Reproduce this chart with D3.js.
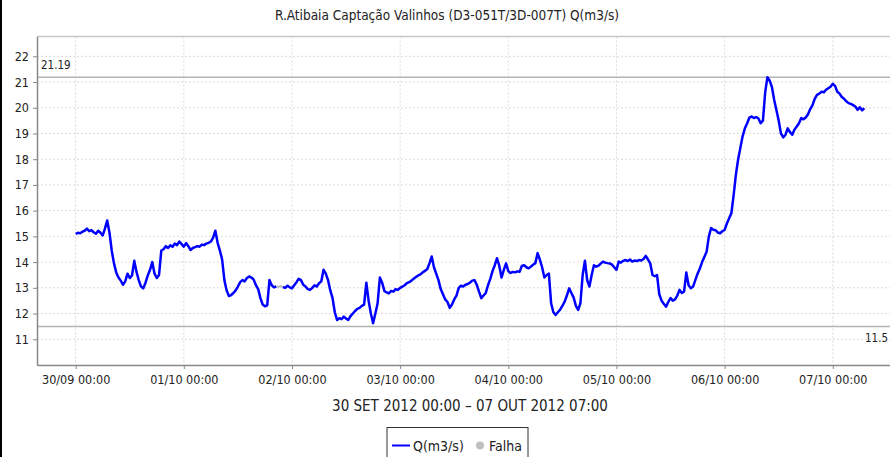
<!DOCTYPE html>
<html>
<head>
<meta charset="utf-8">
<script src="https://cdn.jsdelivr.net/npm/d3@7"></script>
<style>
  body { margin: 0; background: #fff; }
  svg { display: block; overflow: hidden; }
  text { font-family: "DejaVu Sans Condensed", "DejaVu Sans", sans-serif; fill: #222; }
</style>
</head>
<body>
<div id="chart"></div>
<script>
// Half-hourly flow readings, 30/09/2012 00:00 to 07/10/2012 07:00
const startTime = new Date(2012, 8, 30, 0, 0);
const stepMinutes = 30;
const flow = [
  15.10, 15.14, 15.12, 15.18, 15.22, 15.30, 15.20, 15.24, 15.16, 15.10, 15.22, 15.14,
  15.04, 15.30, 15.62, 15.15, 14.45, 13.95, 13.60, 13.40, 13.28, 13.12, 13.25, 13.55,
  13.38, 13.48, 14.05, 13.62, 13.30, 13.05, 12.98, 13.20, 13.48, 13.70, 14.00, 13.55,
  13.38, 13.50, 14.45, 14.50, 14.62, 14.55, 14.65, 14.60, 14.72, 14.66, 14.80, 14.70,
  14.60, 14.74, 14.62, 14.47, 14.55, 14.58, 14.62, 14.60, 14.68, 14.66, 14.72, 14.75,
  14.80, 14.95, 15.22, 14.75, 14.45, 14.10, 13.30, 12.90, 12.68, 12.72, 12.80, 12.90,
  13.05, 13.22, 13.30, 13.25, 13.38, 13.44, 13.40, 13.32, 13.10, 12.95, 12.60, 12.35,
  12.28, 12.32, 13.30, 13.10, 13.02, 13.05, 13.04, 13.06, 13.03, 13.00, 13.08, 13.02,
  12.98, 13.10, 13.22, 13.35, 13.30, 13.12, 13.05, 12.95, 12.92, 13.00, 13.10, 13.05,
  13.18, 13.25, 13.70, 13.55, 13.30, 12.90, 12.60, 12.05, 11.75, 11.82, 11.78, 11.88,
  11.80, 11.75, 11.90, 12.00, 12.10, 12.18, 12.22, 12.30, 12.35, 13.20, 12.50, 12.00,
  11.62, 12.00, 12.40, 13.40, 13.20, 12.88, 12.82, 12.78, 12.88, 12.85, 12.95, 12.92,
  13.00, 13.05, 13.10, 13.18, 13.22, 13.28, 13.35, 13.42, 13.48, 13.52, 13.60, 13.66,
  13.72, 13.95, 14.22, 13.80, 13.55, 13.30, 12.95, 12.75, 12.55, 12.45, 12.22, 12.35,
  12.55, 12.70, 13.00, 13.08, 13.05, 13.12, 13.15, 13.20, 13.28, 13.30, 13.12, 12.85,
  12.60, 12.70, 12.80, 13.10, 13.35, 13.65, 13.88, 14.15, 13.85, 13.40, 13.70, 13.95,
  13.65, 13.58, 13.62, 13.60, 13.64, 13.62, 13.85, 13.88, 13.80, 13.76, 13.82, 13.90,
  13.96, 14.35, 14.10, 13.80, 13.40, 13.50, 13.55, 12.40, 12.05, 11.95, 12.05, 12.15,
  12.30, 12.46, 12.70, 12.98, 12.80, 12.62, 12.30, 12.14, 12.40, 13.50, 14.05, 13.30,
  13.05, 13.50, 13.88, 13.82, 13.86, 13.94, 14.02, 13.98, 13.96, 13.95, 13.90, 13.80,
  13.70, 14.02, 13.98, 14.05, 14.08, 14.04, 14.10, 14.02, 14.06, 14.04, 14.08, 14.06,
  14.12, 14.24, 14.10, 13.95, 13.50, 13.45, 13.50, 12.75, 12.50, 12.38, 12.27, 12.45,
  12.60, 12.50, 12.55, 12.70, 12.92, 12.80, 12.85, 13.60, 13.10, 12.98, 13.05, 13.30,
  13.55, 13.75, 14.00, 14.20, 14.40, 15.00, 15.32, 15.26, 15.24, 15.15, 15.12, 15.20,
  15.25, 15.50, 15.70, 15.90, 16.60, 17.40, 18.00, 18.45, 18.90, 19.20, 19.40, 19.62,
  19.66, 19.60, 19.64, 19.58, 19.40, 19.50, 20.60, 21.19, 21.05, 20.80, 20.30, 19.90,
  19.50, 19.00, 18.85, 18.95, 19.20, 19.05, 18.95, 19.15, 19.27, 19.40, 19.60, 19.55,
  19.62, 19.75, 19.95, 20.10, 20.35, 20.50, 20.55, 20.62, 20.60, 20.70, 20.76, 20.82,
  20.93, 20.85, 20.62, 20.55, 20.42, 20.35, 20.25, 20.18, 20.15, 20.10, 20.05, 19.92,
  20.02, 19.90, 19.98
];

// Failure interval (drawn in grey)
const falhaStart = new Date(2012, 9, 1, 20, 30);
const falhaEnd = new Date(2012, 9, 1, 22, 0);

// Reference lines (max / min)
const refValues = [21.19, 11.5];
const refLabels = ["21.19", "11.5"];

const yTicks = [11, 12, 13, 14, 15, 16, 17, 18, 19, 20, 21, 22];
const dayTicks = ["2012-09-30", "2012-10-01", "2012-10-02", "2012-10-03",
                  "2012-10-04", "2012-10-05", "2012-10-06", "2012-10-07"];

const title = "R.Atibaia Captação Valinhos (D3-051T/3D-007T) Q(m3/s)";
const xTitle = "30 SET 2012 00:00 – 07 OUT 2012 07:00";
const seriesName = "Q(m3/s)";
const falhaName = "Falha";

const W = 890, H = 457;
const margin = { top: 36.5, right: -13, bottom: 92, left: 37 };
const width = W - margin.left - margin.right;
const height = H - margin.top - margin.bottom;

const data = flow.map(function(v, i) {
  return { t: new Date(startTime.getTime() + i * stepMinutes * 60000), v: v };
});

const svgRoot = d3.select("#chart").append("svg")
  .attr("width", W)
  .attr("height", H);

// black left border
svgRoot.append("rect").attr("x", 0).attr("y", 0).attr("width", 2).attr("height", H).attr("fill", "#000");

svgRoot.append("text")
  .attr("x", 447).attr("y", 20)
  .attr("text-anchor", "middle")
  .style("font-size", "13.5px")
  .text(title);

const svg = svgRoot.append("g")
  .attr("transform", "translate(" + margin.left + "," + margin.top + ")");

const tStart = data[0].t, tEnd = data[data.length - 1].t;
const pad = 8.58 * 3600000;
const x = d3.scaleTime()
  .domain([new Date(tStart.getTime() - pad), new Date(tEnd.getTime() + pad)])
  .range([0, width]);
const y = d3.scaleLinear()
  .domain([10, 22.77])
  .range([height, 0]);

const dayDates = dayTicks.map(function(s) { const p = s.split("-"); return new Date(+p[0], +p[1] - 1, +p[2]); });

// grid
svg.append("g").selectAll("line")
  .data(yTicks).enter().append("line")
  .attr("x1", 0).attr("x2", width)
  .attr("y1", function(d) { return y(d); }).attr("y2", function(d) { return y(d); })
  .attr("stroke", "#dadada").attr("stroke-dasharray", "2,2");
svg.append("g").selectAll("line")
  .data(dayDates).enter().append("line")
  .attr("y1", 0).attr("y2", height)
  .attr("x1", function(d) { return x(d); }).attr("x2", function(d) { return x(d); })
  .attr("stroke", "#dadada").attr("stroke-dasharray", "2,2");

// top border
svg.append("line").attr("x1", 0).attr("x2", width).attr("y1", 0).attr("y2", 0)
  .attr("stroke", "#c8c8c8").attr("stroke-width", 1.5);

// reference lines
svg.append("g").selectAll("line")
  .data(refValues).enter().append("line")
  .attr("x1", 0).attr("x2", width)
  .attr("y1", function(d) { return y(d); }).attr("y2", function(d) { return y(d); })
  .attr("stroke", "#b4b4b4").attr("stroke-width", 1.5);
svg.append("text")
  .attr("x", 4).attr("y", y(refValues[0]) - 8)
  .style("font-size", "11.5px")
  .text(refLabels[0]);
svg.append("text")
  .attr("x", 828).attr("y", y(refValues[1]) + 16)
  .style("font-size", "11.5px")
  .text(refLabels[1]);

// series
const line = d3.line()
  .x(function(d) { return x(d.t); })
  .y(function(d) { return y(d.v); });

svg.append("path")
  .datum(data)
  .attr("fill", "none")
  .attr("stroke", "#b8b8b8")
  .attr("stroke-width", 2)
  .attr("d", line.defined(function(d) { return d.t >= falhaStart && d.t <= falhaEnd; }));

svg.append("path")
  .datum(data)
  .attr("fill", "none")
  .attr("stroke", "#0000ff")
  .attr("stroke-width", 2.5)
  .attr("stroke-linejoin", "round")
  .attr("d", line.defined(function(d) { return d.t <= falhaStart || d.t >= falhaEnd; }));

// axes
const xAxis = svg.append("g")
  .attr("transform", "translate(0," + height + ")")
  .call(d3.axisBottom(x).tickValues(dayDates).tickFormat(d3.timeFormat("%d/%m %H:%M")).tickSizeInner(4).tickSizeOuter(0).tickPadding(6));
const yAxis = svg.append("g")
  .call(d3.axisLeft(y).tickValues(yTicks).tickFormat(d3.format("d")).tickSizeInner(4).tickSizeOuter(0).tickPadding(4));

[xAxis, yAxis].forEach(function(a) {
  a.select(".domain").attr("stroke", "#888").attr("stroke-width", 1.5);
  a.selectAll(".tick line").attr("stroke", "#888");
  a.selectAll(".tick text").style("font-size", "12.5px").style("font-family", "DejaVu Sans Condensed").attr("fill", "#222");
});

svgRoot.append("text")
  .attr("x", 470).attr("y", 411)
  .attr("text-anchor", "middle")
  .style("font-size", "15px")
  .text(xTitle);

// legend
const legend = svgRoot.append("g").attr("transform", "translate(387,427.5)");
legend.append("rect")
  .attr("x", 0).attr("y", 0).attr("width", 141).attr("height", 40)
  .attr("fill", "#fff").attr("stroke", "#333").attr("stroke-width", 1);
legend.append("line")
  .attr("x1", 5).attr("x2", 23).attr("y1", 18).attr("y2", 18)
  .attr("stroke", "#0000ff").attr("stroke-width", 2);
legend.append("text").attr("x", 26).attr("y", 23).style("font-size", "14px").text(seriesName);
legend.append("circle").attr("cx", 93).attr("cy", 18).attr("r", 4).attr("fill", "#c0c0c0");
legend.append("text").attr("x", 102).attr("y", 23).style("font-size", "14px").text(falhaName);
</script>
</body>
</html>
